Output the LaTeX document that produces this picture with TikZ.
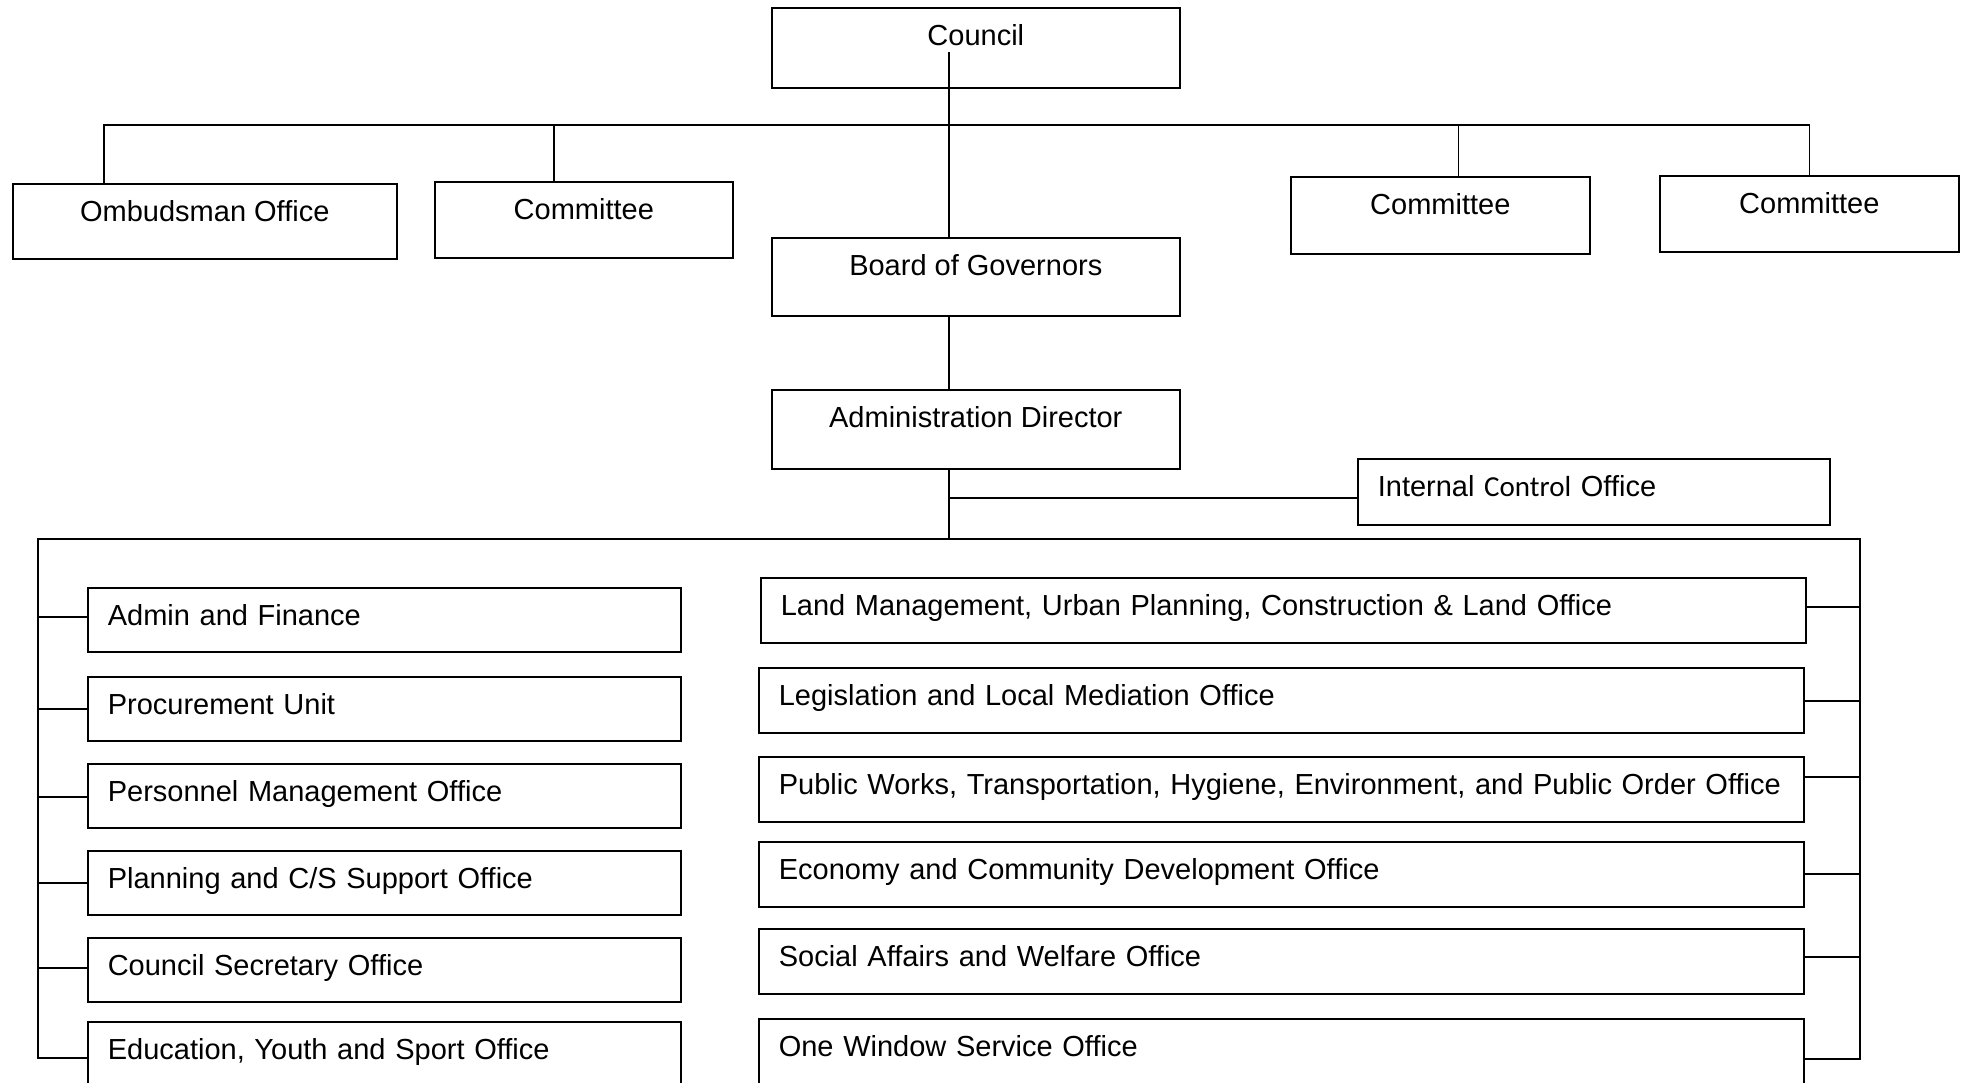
\documentclass[tikz,border=0pt]{standalone}
\usepackage{fontspec}
\setmainfont{Liberation Sans}
\newfontfamily\calfont{Carlito}
\begin{document}
\begin{tikzpicture}[x=1pt,y=-1pt,line width=1.6pt,
    every node/.style={draw,inner sep=0pt,anchor=north west,font=\fontsize{29}{35}\selectfont},
    upbox/.style 2 args={minimum width=#1,text height=38pt,text depth=#2},
    lowbox/.style={text width=#1,align=left,text height=38pt,text depth=26pt,
        execute at begin node=\hspace*{20pt}}]
\useasboundingbox (0,0) rectangle (1963,1082);
\clip (0,0) rectangle (1963,1082);
\node[upbox={408pt}{42pt}] (c) at (771,7) {Council};
\node[upbox={384pt}{37pt}] (om) at (12,183) {Ombudsman Office};
\node[upbox={298pt}{38pt}] (cm1) at (434,181) {Committee};
\node[upbox={299pt}{39pt}] (cm2) at (1290,176) {Committee};
\node[upbox={299pt}{38pt}] (cm3) at (1659,175) {Committee};
\node[upbox={408pt}{40pt}] (b) at (771,237) {Board of Governors};
\node[upbox={408pt}{41pt}] (ad) at (771,389) {Administration Director};
\node[lowbox=472pt,text depth=28pt] (ic) at (1357,458) {Internal {\calfont Control} Office};
\node[lowbox=593pt] (l1) at (87,587) {Admin and Finance};
\node[lowbox=593pt] (l2) at (87,676) {Procurement Unit};
\node[lowbox=593pt] (l3) at (87,763) {Personnel Management Office};
\node[lowbox=593pt] (l4) at (87,850) {Planning and C/S Support Office};
\node[lowbox=593pt] (l5) at (87,937) {Council Secretary Office};
\node[lowbox=593pt] (l6) at (87,1021) {Education, Youth and Sport Office};
\node[lowbox=1045pt,text depth=27pt] (r1) at (760,577) {Land Management, Urban Planning, Construction \& Land Office};
\node[lowbox=1045pt,text depth=27pt] (r2) at (758,667) {Legislation and Local Mediation Office};
\node[lowbox=1045pt,text depth=27pt] (r3) at (758,756) {Public Works, Transportation, Hygiene, Environment, and Public Order Office};
\node[lowbox=1045pt,text depth=27pt] (r4) at (758,841) {Economy and Community Development Office};
\node[lowbox=1045pt,text depth=27pt] (r5) at (758,928) {Social Affairs and Welfare Office};
\node[lowbox=1045pt,text depth=27pt] (r6) at (758,1018) {One Window Service Office};
\coordinate (t) at (949,52);
\coordinate (bus) at (949,125);
\coordinate (j) at (949,498);
\coordinate (m) at (949,539);
\coordinate (lb) at (38,539);
\coordinate (rb) at (1860,539);
\draw ([xshift=-101pt]om.north) |- (bus) -| (cm3.north);
\draw ([xshift=-30pt]cm1.north) -- ([xshift=-30pt]cm1.north |- bus);
\draw ([xshift=18pt]cm2.north) -- ([xshift=18pt]cm2.north |- bus);
\draw (t) -- (b.north -| t);
\draw (b.south -| t) -- (ad.north -| t);
\draw (ad.south -| m) -- (m);
\draw (j) -- (j -| ic.west);
\draw (l6.west |- 0,1058) -| (lb) -- (rb) |- (r6.east |- 0,1059);
\foreach \n/\y in {l1/617,l2/709,l3/797,l4/883,l5/968}
    \draw (lb |- 0,\y) -- (\n.west |- 0,\y);
\foreach \n/\y in {r1/607,r2/701,r3/777,r4/874,r5/957}
    \draw (\n.east |- 0,\y) -- (rb |- 0,\y);
\end{tikzpicture}
\end{document}
